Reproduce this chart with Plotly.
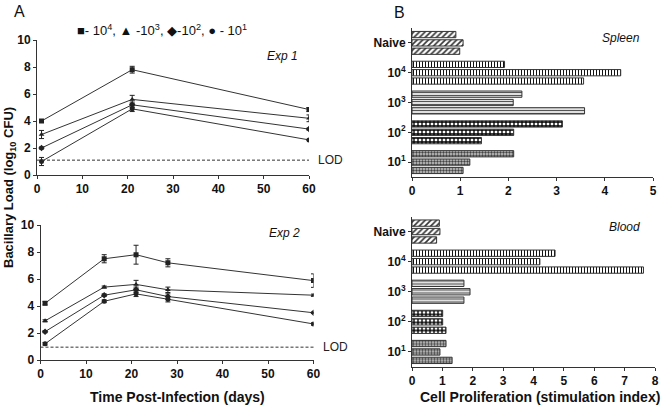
import plotly.graph_objects as go

# ---------------- data ----------------
days_exp1 = [1, 21, 60]
days_exp2 = [1, 14, 21, 28, 60]

exp1_1e4 = [4.0, 7.8, 4.85]
exp1_1e3 = [3.0, 5.6, 4.2]
exp1_1e2 = [2.0, 5.2, 3.4]
exp1_1e1 = [1.0, 4.9, 2.6]
exp1_err_1e4 = [0.1, 0.25, 0.15]
exp1_err_1e3 = [0.3, 0.3, 0.25]
exp1_err_1e2 = [0.08, 0.2, 0.08]
exp1_err_1e1 = [0.3, 0.2, 0.05]

exp2_1e4 = [4.2, 7.5, 7.8, 7.2, 5.88]
exp2_1e3 = [2.9, 5.4, 5.6, 5.2, 4.8]
exp2_1e2 = [2.1, 4.8, 5.2, 4.7, 3.5]
exp2_1e1 = [1.2, 4.35, 4.9, 4.5, 2.67]
exp2_err_1e4 = [0.12, 0.3, 0.7, 0.3, 0.5]
exp2_err_1e3 = [0.08, 0.08, 0.3, 0.2, 0.08]
exp2_err_1e2 = [0.08, 0.1, 0.2, 0.2, 0.05]
exp2_err_1e1 = [0.1, 0.1, 0.2, 0.2, 0.08]

lod_exp1 = 1.1
lod_exp2 = 0.95

groups = ["Naive", "10<sup>4</sup>", "10<sup>3</sup>", "10<sup>2</sup>", "10<sup>1</sup>"]
spleen_rep1 = [0.91, 1.92, 2.28, 3.12, 2.11]
spleen_rep2 = [1.06, 4.33, 2.10, 2.11, 1.20]
spleen_rep3 = [0.99, 3.56, 3.58, 1.44, 1.06]
blood_rep1 = [0.90, 4.71, 1.71, 1.01, 1.12]
blood_rep2 = [0.92, 4.21, 1.91, 1.01, 0.92]
blood_rep3 = [0.81, 7.62, 1.71, 1.12, 1.32]

# ---------------- styles ----------------
FONT = "Arial, Liberation Sans, sans-serif"
ink = "#222222"
symbols = ["square", "triangle-up", "diamond", "circle"]

pat_shape = ["/", "|", "-", "+", "."]
pat_fg = ["#333333", "#111111", "#555555", "#000000", "#444444"]
pat_bg = ["#ffffff", "#ffffff", "#e0e0e0", "#ffffff", "#cccccc"]
pat_size = [4, 3, 3, 4, 3]
pat_sol = [0.4, 0.35, 0.35, 0.55, 0.5]

W, H = 661, 408
def dx(a, b):
    return [a / W, b / W]
def dy(top, bottom):
    return [1 - bottom / H, 1 - top / H]

fig = go.Figure()

def add_series(days, ys, errs, sym, xa, ya):
    fig.add_trace(go.Scatter(
        x=days, y=ys, mode="lines+markers", xaxis=xa, yaxis=ya,
        line=dict(color="#333333", width=1),
        marker=dict(symbol=sym, size=5, color=ink),
        error_y=dict(type="data", array=errs, color=ink, thickness=1, width=2.5),
        showlegend=False))

for ys, er, s in zip([exp1_1e4, exp1_1e3, exp1_1e2, exp1_1e1],
                     [exp1_err_1e4, exp1_err_1e3, exp1_err_1e2, exp1_err_1e1], symbols):
    add_series(days_exp1, ys, er, s, "x", "y")
for ys, er, s in zip([exp2_1e4, exp2_1e3, exp2_1e2, exp2_1e1],
                     [exp2_err_1e4, exp2_err_1e3, exp2_err_1e2, exp2_err_1e1], symbols):
    add_series(days_exp2, ys, er, s, "x2", "y2")

def add_bars(reps, xa, ya):
    for ri, r in enumerate(reps):
        for ci, g in enumerate(groups):
            fig.add_trace(go.Bar(
                x=[r[ci]], y=[g], orientation="h", xaxis=xa, yaxis=ya,
                offsetgroup=str(ri),
                marker=dict(color=pat_bg[ci], line=dict(color="#333333", width=1),
                            pattern=dict(shape=pat_shape[ci], fgcolor=pat_fg[ci],
                                         bgcolor=pat_bg[ci], size=pat_size[ci],
                                         solidity=pat_sol[ci])),
                showlegend=False))

add_bars([spleen_rep1, spleen_rep2, spleen_rep3], "x3", "y3")
add_bars([blood_rep1, blood_rep2, blood_rep3], "x4", "y4")

tickfont = dict(family=FONT, size=12, color="#111111", weight="bold")
axis_common = dict(showline=True, linecolor="#333333", linewidth=1, ticks="outside",
                   tickcolor="#333333", ticklen=3, showgrid=False, zeroline=False,
                   tickfont=tickfont, automargin=False)

fig.update_layout(
    template="none",
    width=W, height=H, margin=dict(l=0, r=0, t=0, b=0, pad=0),
    paper_bgcolor="white", plot_bgcolor="white",
    barmode="group", bargap=0.16, bargroupgap=0.25,
    font=dict(family=FONT, color="#111111"),
    xaxis=dict(domain=dx(37, 309), range=[0, 60], dtick=10, anchor="y", **axis_common),
    yaxis=dict(domain=dy(40, 175), range=[0, 10], dtick=2, anchor="x", **axis_common),
    xaxis2=dict(domain=dx(40.5, 313.5), range=[0, 60], dtick=10, anchor="y2", **axis_common),
    yaxis2=dict(domain=dy(225, 360), range=[0, 10], dtick=2, anchor="x2", **axis_common),
    xaxis3=dict(domain=dx(412, 653), range=[0, 5], dtick=1, anchor="y3", **axis_common),
    yaxis3=dict(domain=dy(28, 177), range=[4.5, -0.5], anchor="x3", type="category",
                categoryorder="array", categoryarray=groups, **axis_common),
    xaxis4=dict(domain=dx(412, 655), range=[0, 8], dtick=1, anchor="y4", **axis_common),
    yaxis4=dict(domain=dy(216.5, 367), range=[4.5, -0.5], anchor="x4", type="category",
                categoryorder="array", categoryarray=groups, **axis_common),
)

# LOD lines
for yref, xref, val in [("y", "x", lod_exp1), ("y2", "x2", lod_exp2)]:
    fig.add_shape(type="line", xref=xref + " domain", yref=yref, x0=0, x1=1, y0=val, y1=val,
                  line=dict(color="#333333", width=1, dash="3px,2px"))
    fig.add_annotation(xref=xref + " domain", yref=yref, x=1, y=val, xanchor="left",
                       yanchor="middle", xshift=7, text="LOD", showarrow=False,
                       font=dict(family=FONT, size=12, color="#222222"))

def note(x, y, text, size=12, angle=0, **kw):
    fig.add_annotation(xref="paper", yref="paper", x=x / W, y=1 - y / H, text=text,
                       xanchor="center", yanchor="middle", textangle=angle,
                       showarrow=False, font=dict(family=FONT, size=size, color="#111111", **kw))

note(19, 11, "A", size=16)
note(399, 12, "B", size=16)
note(162, 30, "■- 10<sup>4</sup>, ▲ -10<sup>3</sup>, ◆-10<sup>2</sup>, ● - 10<sup>1</sup>", size=13)
note(282, 56, "<i>Exp 1</i>", size=12)
note(284, 233, "<i>Exp 2</i>", size=12)
note(621, 38, "<i>Spleen</i>", size=12)
note(624, 227, "<i>Blood</i>", size=12)
note(177, 397, "<b>Time Post-Infection (days)</b>", size=14)
note(540, 397, "<b>Cell Proliferation (stimulation index)</b>", size=14)
note(10, 188, "<b>Bacillary Load (log<sub>10</sub> CFU)</b>", size=13, angle=-90)

fig.write_html("out.html", config={"displayModeBar": False},
               post_script="document.body.style.margin='0';document.body.style.overflow='hidden';")
